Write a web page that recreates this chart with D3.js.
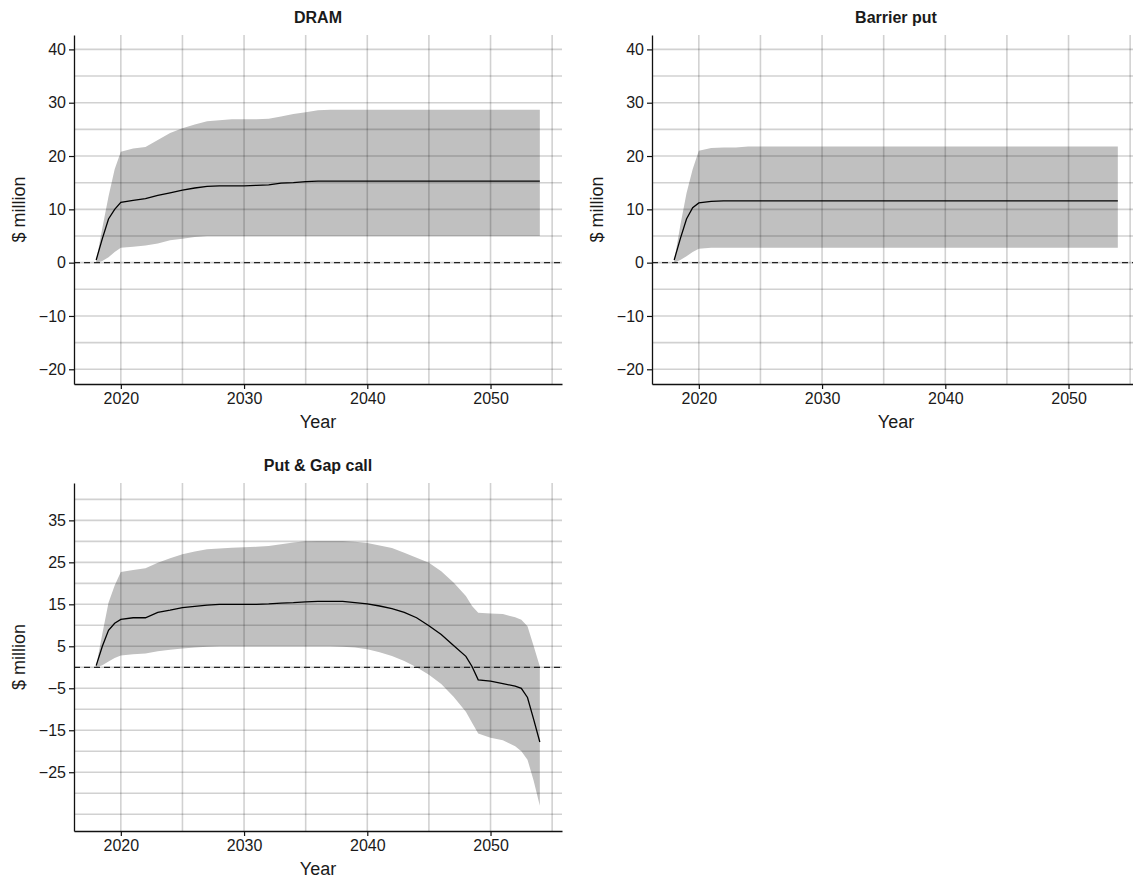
<!DOCTYPE html>
<html>
<head>
<meta charset="utf-8">
<script src="https://cdn.jsdelivr.net/npm/d3@7"></script>
<style>
  body { margin: 0; background: #fff; }
  svg { display: block; }
  text { font-family: "Liberation Sans", Arial, sans-serif; fill: #1a1a1a; }
</style>
</head>
<body>
<svg id="chart" width="1133" height="879"></svg>
<script>
// time axis (half years near the ends where the curves bend)
var years = [2018, 2018.5, 2019, 2019.5, 2020, 2021, 2022, 2023, 2024, 2025, 2026, 2027, 2028, 2029,
    2030, 2031, 2032, 2033, 2034, 2035, 2036, 2037, 2038, 2039, 2040, 2041, 2042, 2043, 2044, 2045,
    2046, 2047, 2048, 2048.5, 2049, 2050, 2051, 2052, 2052.5, 2053, 2053.5, 2054];

var dramMean = [0.5, 4.5, 8.2, 10.0, 11.3, 11.7, 12.0, 12.6, 13.1, 13.6, 14.0, 14.3, 14.4, 14.4,
    14.4, 14.5, 14.6, 14.9, 15.0, 15.2, 15.3, 15.3, 15.3, 15.3, 15.3, 15.3, 15.3, 15.3, 15.3, 15.3,
    15.3, 15.3, 15.3, 15.3, 15.3, 15.3, 15.3, 15.3, 15.3, 15.3, 15.3, 15.3];
var dramHigh = [0.3, 6.5, 12.4, 17.5, 20.8, 21.4, 21.7, 23.0, 24.3, 25.2, 25.9, 26.5, 26.7, 26.9,
    26.9, 26.9, 27.0, 27.4, 27.9, 28.2, 28.6, 28.7, 28.7, 28.7, 28.7, 28.7, 28.7, 28.7, 28.7, 28.7,
    28.7, 28.7, 28.7, 28.7, 28.7, 28.7, 28.7, 28.7, 28.7, 28.7, 28.7, 28.7];
var dramLow = [0.0, 0.3, 1.0, 2.0, 2.8, 3.0, 3.2, 3.6, 4.2, 4.5, 4.8, 5.0, 5.0, 5.0,
    5.0, 5.0, 5.0, 5.0, 5.0, 5.0, 5.0, 5.0, 5.0, 5.0, 5.0, 5.0, 5.0, 5.0, 5.0, 5.0,
    5.0, 5.0, 5.0, 5.0, 5.0, 5.0, 5.0, 5.0, 5.0, 5.0, 5.0, 5.0];

var barrierMean = [0.5, 4.5, 8.2, 10.3, 11.2, 11.5, 11.6, 11.6, 11.6, 11.6, 11.6, 11.6, 11.6, 11.6,
    11.6, 11.6, 11.6, 11.6, 11.6, 11.6, 11.6, 11.6, 11.6, 11.6, 11.6, 11.6, 11.6, 11.6, 11.6, 11.6,
    11.6, 11.6, 11.6, 11.6, 11.6, 11.6, 11.6, 11.6, 11.6, 11.6, 11.6, 11.6];
var barrierHigh = [0.3, 7.0, 13.0, 17.5, 21.0, 21.5, 21.6, 21.6, 21.8, 21.8, 21.8, 21.8, 21.8, 21.8,
    21.8, 21.8, 21.8, 21.8, 21.8, 21.8, 21.8, 21.8, 21.8, 21.8, 21.8, 21.8, 21.8, 21.8, 21.8, 21.8,
    21.8, 21.8, 21.8, 21.8, 21.8, 21.8, 21.8, 21.8, 21.8, 21.8, 21.8, 21.8];
var barrierLow = [0.0, 0.5, 1.2, 2.0, 2.6, 2.8, 2.8, 2.8, 2.8, 2.8, 2.8, 2.8, 2.8, 2.8,
    2.8, 2.8, 2.8, 2.8, 2.8, 2.8, 2.8, 2.8, 2.8, 2.8, 2.8, 2.8, 2.8, 2.8, 2.8, 2.8,
    2.8, 2.8, 2.8, 2.8, 2.8, 2.8, 2.8, 2.8, 2.8, 2.8, 2.8, 2.8];

var putMean = [0.4, 5.0, 8.8, 10.5, 11.4, 11.8, 11.8, 13.1, 13.6, 14.2, 14.5, 14.8, 15.0, 15.0,
    15.0, 15.0, 15.1, 15.3, 15.4, 15.6, 15.7, 15.7, 15.7, 15.4, 15.1, 14.6, 14.0, 13.1, 11.8, 9.9,
    7.8, 5.2, 2.6, 0.2, -3.0, -3.3, -3.9, -4.5, -5.0, -7.2, -12.4, -17.8];
var putHigh = [0.3, 8.0, 15.4, 19.5, 22.7, 23.2, 23.6, 24.9, 26.0, 26.9, 27.6, 28.1, 28.3, 28.5,
    28.6, 28.7, 28.9, 29.3, 29.7, 30.0, 30.1, 30.1, 30.1, 29.9, 29.6, 29.0, 28.4, 27.3, 26.1, 24.9,
    22.9, 20.2, 17.0, 14.6, 13.0, 12.8, 12.7, 11.9, 11.3, 9.8, 5.1, 0.2];
var putLow = [0.0, 0.5, 1.4, 2.2, 2.8, 3.1, 3.3, 3.8, 4.2, 4.5, 4.7, 4.9, 5.0, 5.0,
    5.0, 5.0, 5.0, 5.0, 5.0, 5.0, 5.0, 5.0, 4.9, 4.7, 4.3, 3.6, 2.7, 1.5, 0.0, -1.8,
    -4.0, -7.0, -10.6, -13.2, -15.8, -16.8, -17.4, -18.8, -20.0, -22.0, -27.0, -33.0];

var xTicks = [2020, 2030, 2040, 2050];
var xGrid = [2020, 2025, 2030, 2035, 2040, 2045, 2050, 2055];
var yTicksTop = [-20, -10, 0, 10, 20, 30, 40];
var yGridTop = [-20, -15, -10, -5, 0, 5, 10, 15, 20, 25, 30, 35, 40];
var yTicksBottom = [-25, -15, -5, 5, 15, 25, 35];
var yGridBottom = [-35, -30, -25, -20, -15, -10, -5, 0, 5, 10, 15, 20, 25, 30, 35, 40];

var svg = d3.select("#chart");

var panels = [
    { title: "DRAM", left: 74, top: 35, width: 488, height: 349, yDomain: [-22.76, 42.7],
      yTicks: yTicksTop, yGrid: yGridTop, mean: dramMean, low: dramLow, high: dramHigh },
    { title: "Barrier put", left: 652, top: 35, width: 488, height: 349, yDomain: [-22.76, 42.7],
      yTicks: yTicksTop, yGrid: yGridTop, mean: barrierMean, low: barrierLow, high: barrierHigh },
    { title: "Put & Gap call", left: 74, top: 483, width: 488, height: 348, yDomain: [-39, 43.9],
      yTicks: yTicksBottom, yGrid: yGridBottom, mean: putMean, low: putLow, high: putHigh }
];

panels.forEach(function (p) {
    var g = svg.append("g").attr("transform", "translate(" + p.left + "," + p.top + ")");

    var x = d3.scaleLinear().domain([2016.2, 2055.8]).range([0, p.width]);
    var y = d3.scaleLinear().domain(p.yDomain).range([p.height, 0]);

    var rows = years.map(function (yr, i) {
        return { year: yr, mean: p.mean[i], low: p.low[i], high: p.high[i] };
    });

    // band between low and high
    g.append("path")
        .datum(rows)
        .attr("fill", "#c0c0c0")
        .attr("d", d3.area()
            .x(function (d) { return x(d.year); })
            .y0(function (d) { return y(d.low); })
            .y1(function (d) { return y(d.high); }));

    // grid on top of the band, semi transparent
    var grid = g.append("g")
        .attr("stroke", "#000")
        .attr("stroke-opacity", 0.18)
        .attr("stroke-width", 1.6);
    grid.selectAll("line.v")
        .data(xGrid)
        .enter().append("line")
        .attr("class", "v")
        .attr("x1", function (d) { return x(d); })
        .attr("x2", function (d) { return x(d); })
        .attr("y1", 0)
        .attr("y2", p.height);
    grid.selectAll("line.h")
        .data(p.yGrid)
        .enter().append("line")
        .attr("class", "h")
        .attr("x1", 0)
        .attr("x2", p.width)
        .attr("y1", function (d) { return y(d); })
        .attr("y2", function (d) { return y(d); });

    // zero reference
    g.append("line")
        .attr("x1", 0)
        .attr("x2", p.width)
        .attr("y1", y(0))
        .attr("y2", y(0))
        .attr("stroke", "#222")
        .attr("stroke-width", 1.3)
        .attr("stroke-dasharray", "6,4");

    g.append("path")
        .datum(rows)
        .attr("fill", "none")
        .attr("stroke", "#000")
        .attr("stroke-width", 1.3)
        .attr("d", d3.line()
            .x(function (d) { return x(d.year); })
            .y(function (d) { return y(d.mean); }));

    var xAxis = g.append("g")
        .attr("transform", "translate(0," + p.height + ")")
        .call(d3.axisBottom(x).tickValues(xTicks).tickFormat(d3.format("d")).tickSize(5).tickSizeOuter(0).tickPadding(4));
    var yAxis = g.append("g")
        .call(d3.axisLeft(y).tickValues(p.yTicks).tickSize(5).tickSizeOuter(0).tickPadding(3));

    [xAxis, yAxis].forEach(function (a) {
        a.select(".domain").attr("stroke", "#111").attr("stroke-width", 1.3);
        a.selectAll(".tick line").attr("stroke", "#111").attr("stroke-width", 1.2);
        a.selectAll(".tick text").attr("font-size", 16).attr("fill", "#222")
            .style("font-family", "'Liberation Sans', Arial, sans-serif");
    });

    g.append("text")
        .attr("x", p.width / 2)
        .attr("y", -12.5)
        .attr("text-anchor", "middle")
        .attr("font-size", 16)
        .attr("font-weight", "bold")
        .text(p.title);

    g.append("text")
        .attr("x", p.width / 2)
        .attr("y", p.height + 43.5)
        .attr("text-anchor", "middle")
        .attr("font-size", 18)
        .text("Year");

    g.append("text")
        .attr("transform", "translate(-55," + (p.height / 2) + ") rotate(-90)")
        .attr("dy", "0.35em")
        .attr("text-anchor", "middle")
        .attr("font-size", 18)
        .text("$ million");
});
</script>
</body>
</html>
